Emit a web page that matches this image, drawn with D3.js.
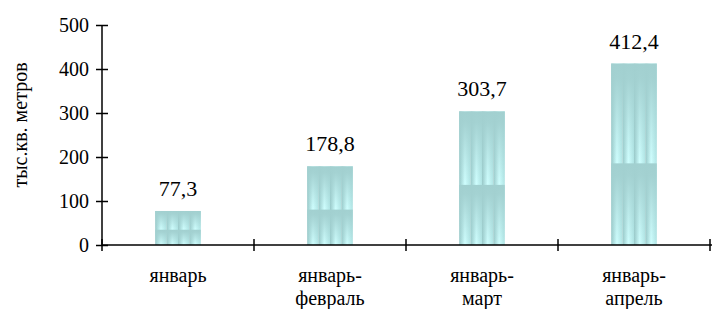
<!DOCTYPE html>
<html lang="ru">
<head>
  <meta charset="UTF-8">
  <title>тыс.кв. метров</title>
  <script src="https://cdn.jsdelivr.net/npm/d3@7"></script>
  <style>
    body { margin: 0; background: #fff; }
    svg { display: block; }
    svg text { font-family: "Liberation Serif", "Times New Roman", Times, "DejaVu Serif", serif; fill: #000; }
  </style>
</head>
<body>
  <svg id="chart" width="712" height="309"></svg>
  <script>
    const categories = [["январь"], ["январь-", "февраль"], ["январь-", "март"], ["январь-", "апрель"]];
    const values     = [77.3, 178.8, 303.7, 412.4];
    const valueText  = ["77,3", "178,8", "303,7", "412,4"];
    const yTicks     = [0, 100, 200, 300, 400, 500];
    const yTitle     = "тыс.кв. метров";

    const svg = d3.select("#chart"),
          margin = { left: 102, right: 0, top: 25, bottom: 64 },
          width  = +svg.attr("width"),
          height = +svg.attr("height");

    const x = d3.scaleBand()
      .domain(d3.range(categories.length))
      .range([margin.left, margin.left + 152 * 4])
      .paddingInner(0.7).paddingOuter(0.35);

    const y = d3.scaleLinear().domain([0, 500]).range([height - margin.bottom, margin.top]);

    const defs = svg.append("defs");
    const stripe = defs.append("linearGradient").attr("id", "stripe");
    stripe.append("stop").attr("offset", "0%").attr("stop-color", "#98c8c8");
    stripe.append("stop").attr("offset", "50%").attr("stop-color", "#d0ffff");
    stripe.append("stop").attr("offset", "100%").attr("stop-color", "#b0e4e4");
    const shade = defs.append("linearGradient").attr("id", "shade")
      .attr("x1", 0).attr("x2", 0).attr("y1", 0).attr("y2", 1);
    shade.append("stop").attr("offset", "0%").attr("stop-color", "#a2d0d0").attr("stop-opacity", 1);
    shade.append("stop").attr("offset", "15%").attr("stop-color", "#a2d0d0").attr("stop-opacity", 0.95);
    shade.append("stop").attr("offset", "100%").attr("stop-color", "#a2d0d0").attr("stop-opacity", 0);

    const bars = svg.append("g").selectAll("g").data(values).join("g");

    bars.each(function (v, i) {
      const g = d3.select(this),
            bw = x.bandwidth(),
            sw = bw / 4,
            top = y(v),
            h = y(0) - y(v);
      // vertical stripes
      g.selectAll("rect.s").data(d3.range(4)).join("rect")
        .attr("class", "s")
        .attr("x", k => x(i) + k * sw)
        .attr("y", top).attr("width", sw).attr("height", h)
        .attr("fill", "url(#stripe)");
      // two tiles vertically, each darker at its top
      g.selectAll("rect.t").data([0, 1]).join("rect")
        .attr("class", "t")
        .attr("x", x(i)).attr("width", bw)
        .attr("y", k => top + k * h * 0.55)
        .attr("height", k => k === 0 ? h * 0.55 : h * 0.45)
        .attr("fill", "url(#shade)");
    });

    // value labels
    svg.append("g").selectAll("text").data(values).join("text")
      .attr("x", (d, i) => x(i) + x.bandwidth() / 2)
      .attr("y", d => y(d) - 15)
      .attr("text-anchor", "middle")
      .attr("font-size", 22)
      .text((d, i) => valueText[i]);

    // y axis
    const yAxis = svg.append("g")
      .attr("transform", `translate(${margin.left},0)`)
      .call(d3.axisLeft(y).tickValues(yTicks).tickSize(6).tickFormat(d3.format("d")));
    yAxis.attr("font-family", null);
    yAxis.selectAll(".tick line").attr("x1", -6).attr("x2", 6).attr("stroke", "#000").attr("stroke-width", 1.5);
    yAxis.select(".domain").attr("d", `M0,${y(500)}V${y(0)}`).attr("stroke", "#000").attr("stroke-width", 1.5);
    yAxis.selectAll("text").attr("x", -13).attr("font-size", 20);

    // x axis
    const xAxisG = svg.append("g");
    xAxisG.append("line")
      .attr("x1", margin.left).attr("x2", width)
      .attr("y1", y(0)).attr("y2", y(0))
      .attr("stroke", "#000").attr("stroke-width", 1.5);
    const bounds = d3.range(categories.length + 1).map(i => margin.left + i * 152);
    xAxisG.selectAll("line.tk").data(bounds).join("line")
      .attr("class", "tk")
      .attr("x1", d => d).attr("x2", d => d)
      .attr("y1", y(0) - 6).attr("y2", y(0) + 6)
      .attr("stroke", "#000").attr("stroke-width", 1.5);

    const cat = xAxisG.selectAll("text").data(categories).join("text")
      .attr("text-anchor", "middle")
      .attr("font-size", 20)
      .attr("x", (d, i) => x(i) + x.bandwidth() / 2)
      .attr("y", y(0) + 37);
    cat.selectAll("tspan").data(d => d).join("tspan")
      .attr("x", function () { return d3.select(this.parentNode).attr("x"); })
      .attr("dy", (d, j) => j === 0 ? 0 : 23)
      .text(d => d);

    // y title
    svg.append("text")
      .attr("transform", `translate(27,${(y(0) + y(500)) / 2 - 10}) rotate(-90)`)
      .attr("text-anchor", "middle")
      .attr("font-size", 20)
      .text(yTitle);
  </script>
</body>
</html>
